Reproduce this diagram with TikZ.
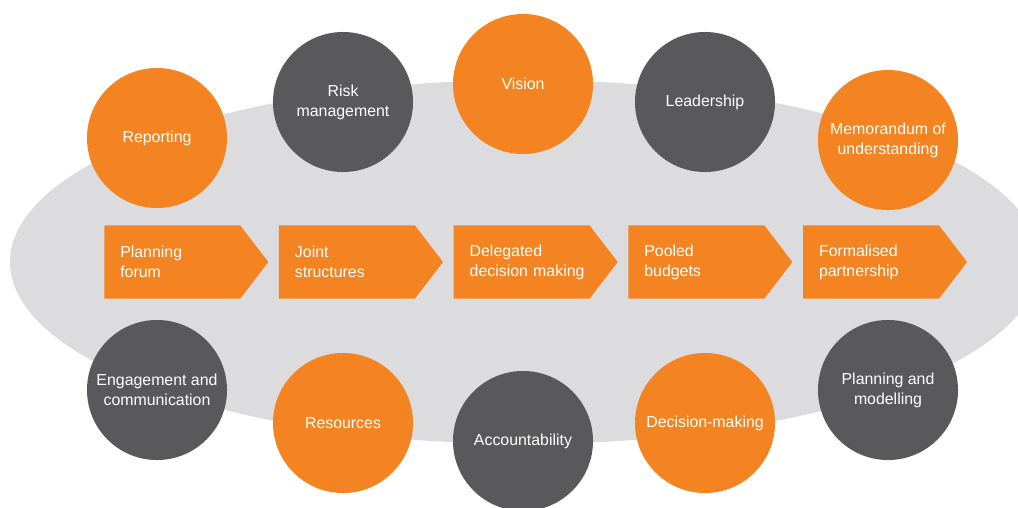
\documentclass[tikz,border=0pt]{standalone}
\usepackage{fontspec}
\setmainfont{Liberation Sans}
\usetikzlibrary{shapes.symbols, positioning}
\definecolor{orng}{HTML}{F48422}
\definecolor{slate}{HTML}{59595B}
\definecolor{field}{HTML}{DCDCDE}
\tikzstyle{txt} = [text=white, font=\fontsize{11.3}{14.2}\selectfont]
\tikzstyle{stage} = [signal, signal to=east, signal pointer angle=105, fill=orng, txt, text width=2.6cm, inner xsep=0.4cm, inner ysep=0pt, minimum height=1.825cm, align=left]
\tikzstyle{circ} = [circle, txt, minimum size=3.5cm, inner sep=0pt, align=center]
\tikzstyle{hot} = [circ, fill=orng]
\tikzstyle{cool} = [circ, fill=slate]

\begin{document}
\begin{tikzpicture}[x=0.025cm, y=-0.025cm, node distance=0.25cm]
\useasboundingbox (0,0) rectangle (1018,507);
\clip (0,0) rectangle (1018,507);
\fill[field] (525,262) ellipse [x radius=515, y radius=182];

% stages along the middle
\node (forum) [stage, anchor=west] at (104,262) {Planning\\forum};
\node (joint) [stage, right=of forum] {Joint\\structures};
\node (delegated) [stage, right=of joint] {Delegated\\\mbox{decision making}};
\node (pooled) [stage, right=of delegated] {Pooled\\budgets};
\node (formal) [stage, right=of pooled] {Formalised\\partnership};

% top row
\node (reporting) [hot] at (157,138) {Reporting};
\node (risk) [cool] at (343,102) {Risk\\management};
\node (vision) [hot] at (523,84) {Vision};
\node (leadership) [cool] at (705,102) {Leadership};
\node (memo) [hot] at (888,140) {Memorandum of\\understanding};

% bottom row
\node (engage) [cool] at (157,390) {Engagement and\\communication};
\node (resources) [hot] at (343,423) {Resources};
\node (account) [cool] at (523,441) {Accountability};
\node (decision) [hot] at (705,423) {Decision-making};
\node (modelling) [cool] at (888,390) {Planning and\\modelling};
\end{tikzpicture}
\end{document}
